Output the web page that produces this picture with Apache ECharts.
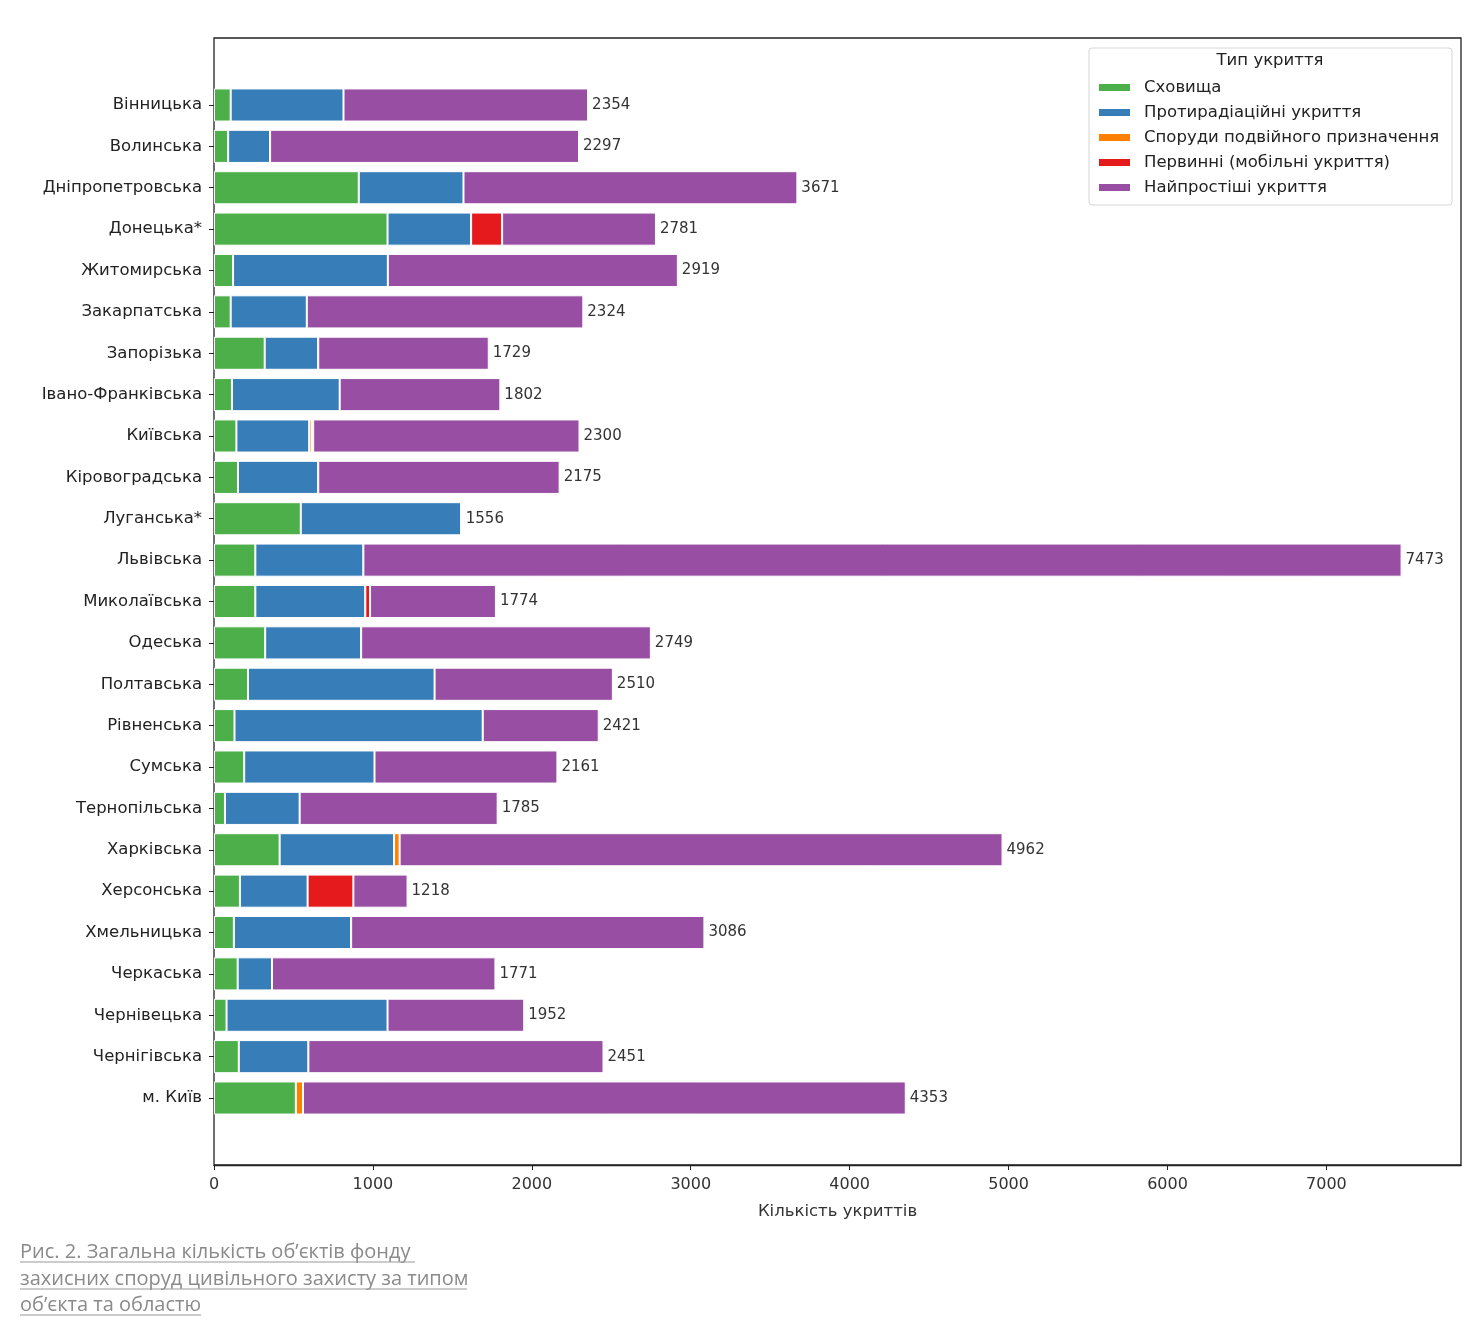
<!DOCTYPE html>
<html>
<head>
<meta charset="utf-8">
<title>Укриття за областями</title>
<script src="https://cdn.jsdelivr.net/npm/echarts@6/dist/echarts.min.js"></script>
<style>
  html, body { margin: 0; padding: 0; background: #fff; }
  #container { width: 1480px; height: 1328px; }
</style>
</head>
<body>
<div id="container"></div>
<script>
var regions = ['Вінницька', 'Волинська', 'Дніпропетровська', 'Донецька*', 'Житомирська',
    'Закарпатська', 'Запорізька', 'Івано-Франківська', 'Київська', 'Кіровоградська',
    'Луганська*', 'Львівська', 'Миколаївська', 'Одеська', 'Полтавська', 'Рівненська',
    'Сумська', 'Тернопільська', 'Харківська', 'Херсонська', 'Хмельницька', 'Черкаська',
    'Чернівецька', 'Чернігівська', 'м. Київ'];

var typeNames = ['Сховища', 'Протирадіаційні укриття', 'Споруди подвійного призначення',
    'Первинні (мобільні укриття)', 'Найпростіші укриття'];
var typeColors = ['#4daf4a', '#377eb8', '#ff7f00', '#e41a1c', '#984ea3'];

var storage   = [105, 89, 911, 1092, 120, 105, 319, 113, 141, 151, 546, 260, 260, 322, 214, 129, 190, 69, 413, 163, 125, 149, 79, 156, 515];
var antirad   = [710, 264, 659, 526, 974, 479, 337, 678, 458, 505, 1010, 680, 692, 604, 1174, 1562, 820, 470, 720, 426, 738, 216, 1013, 438, 0];
var dualUse   = [0, 0, 0, 0, 0, 0, 0, 0, 15, 0, 0, 0, 0, 0, 0, 0, 0, 0, 35, 0, 0, 0, 0, 0, 45];
var primary   = [0, 0, 0, 195, 0, 0, 0, 0, 10, 0, 0, 0, 30, 0, 0, 0, 0, 0, 0, 288, 0, 0, 0, 0, 0];
var simplest  = [1539, 1944, 2101, 968, 1825, 1740, 1073, 1011, 1676, 1519, 0, 6533, 792, 1823, 1122, 730, 1151, 1246, 3794, 341, 2223, 1406, 860, 1857, 3793];
var totals    = [2354, 2297, 3671, 2781, 2919, 2324, 1729, 1802, 2300, 2175, 1556, 7473, 1774, 2749, 2510, 2421, 2161, 1785, 4962, 1218, 3086, 1771, 1952, 2451, 4353];

var xTicks = [0, 1000, 2000, 3000, 4000, 5000, 6000, 7000];

var FONT = 'DejaVu Sans';
var dom = document.getElementById('container');
var myChart = echarts.init(dom);

var seriesValues = [storage, antirad, dualUse, primary, simplest];
var series = [];
for (var i = 0; i < seriesValues.length; i++) {
    var s = {
        name: typeNames[i],
        type: 'bar',
        stack: 'total',
        xAxisIndex: 1,
        yAxisIndex: 1,
        barWidth: '80%',
        data: seriesValues[i],
        itemStyle: { color: typeColors[i], borderColor: '#fff', borderWidth: 1 },
        emphasis: { disabled: true },
        animation: false
    };
    if (i == seriesValues.length - 1) {
        // total of the whole bar, printed after the last segment
        s.label = {
            show: true,
            position: 'right',
            distance: 4,
            fontFamily: FONT,
            fontSize: 15,
            color: '#333',
            formatter: function (p) { return totals[p.dataIndex]; }
        };
    }
    series.push(s);
}

var option = {
    backgroundColor: '#fff',
    animation: false,
    color: typeColors,
    grid: [
        // frame
        { left: 214, right: 19, top: 38, bottom: 163, show: true, borderColor: '#222', borderWidth: 1.3, backgroundColor: 'transparent' },
        // bar band area
        { left: 214, right: 19, top: 84.3, bottom: 209.3 }
    ],
    xAxis: [
        {
            gridIndex: 0,
            type: 'value',
            min: 0,
            max: 7847,
            interval: 1000,
            splitLine: { show: false },
            axisLine: { show: true, lineStyle: { color: '#222', width: 1.3 } },
            axisTick: { show: true, length: 5, customValues: xTicks, lineStyle: { color: '#222' } },
            axisLabel: {
                fontFamily: FONT, fontSize: 16, color: '#333', margin: 12,
                customValues: xTicks,
                formatter: function (v) { return String(v); }
            },
            name: 'Кількість укриттів',
            nameLocation: 'middle',
            nameGap: 38,
            nameTextStyle: { fontFamily: FONT, fontSize: 16.5, color: '#333' }
        },
        {
            gridIndex: 1,
            type: 'value',
            min: 0,
            max: 7847,
            show: false
        }
    ],
    yAxis: [
        {
            gridIndex: 0,
            type: 'value',
            min: 0,
            max: 1,
            axisLine: { show: false },
            axisTick: { show: false },
            axisLabel: { show: false },
            splitLine: { show: false }
        },
        {
            gridIndex: 1,
            type: 'category',
            inverse: true,
            data: regions,
            axisLine: { show: false },
            axisTick: { show: true, alignWithLabel: true, length: 5, lineStyle: { color: '#222' } },
            axisLabel: { fontFamily: FONT, fontSize: 16.5, color: '#222', margin: 12 }
        }
    ],
    legend: {
        orient: 'vertical',
        left: 1097,
        top: 79,
        padding: 0,
        data: typeNames,
        icon: 'rect',
        itemWidth: 33,
        itemHeight: 9,
        itemGap: 8,
        selectedMode: false,
        textStyle: { fontFamily: FONT, fontSize: 16.5, color: '#222', lineHeight: 17, padding: [0, 0, 0, 8] }
    },
    graphic: [
        {
            type: 'rect',
            shape: { x: 1089, y: 48, width: 363, height: 157, r: 3 },
            style: { fill: '#fff', stroke: '#d5d5d5', lineWidth: 1 },
            z: -1
        },
        {
            type: 'text',
            x: 1270, y: 61,
            style: { text: 'Тип укриття', font: '16.5px "DejaVu Sans"', fill: '#222', textAlign: 'center', textVerticalAlign: 'middle' }
        },
        {
            type: 'text',
            x: 20, y: 1252,
            style: { text: 'Рис. 2. Загальна кількість об’єктів фонду', font: '20px "Open Sans"', fill: '#8a8a8a', textVerticalAlign: 'middle' }
        },
        {
            type: 'text',
            x: 20, y: 1279,
            style: { text: 'захисних споруд цивільного захисту за типом', font: '20px "Open Sans"', fill: '#8a8a8a', textVerticalAlign: 'middle' }
        },
        {
            type: 'text',
            x: 20, y: 1305,
            style: { text: 'об’єкта та областю', font: '20px "Open Sans"', fill: '#8a8a8a', textVerticalAlign: 'middle' }
        },
        { type: 'line', shape: { x1: 20, y1: 1262, x2: 415, y2: 1262 }, style: { stroke: '#9a9a9a', lineWidth: 1.2 } },
        { type: 'line', shape: { x1: 20, y1: 1289, x2: 467, y2: 1289 }, style: { stroke: '#9a9a9a', lineWidth: 1.2 } },
        { type: 'line', shape: { x1: 20, y1: 1315, x2: 201, y2: 1315 }, style: { stroke: '#9a9a9a', lineWidth: 1.2 } }
    ],
    series: series
};

myChart.setOption(option);
</script>
</body>
</html>
